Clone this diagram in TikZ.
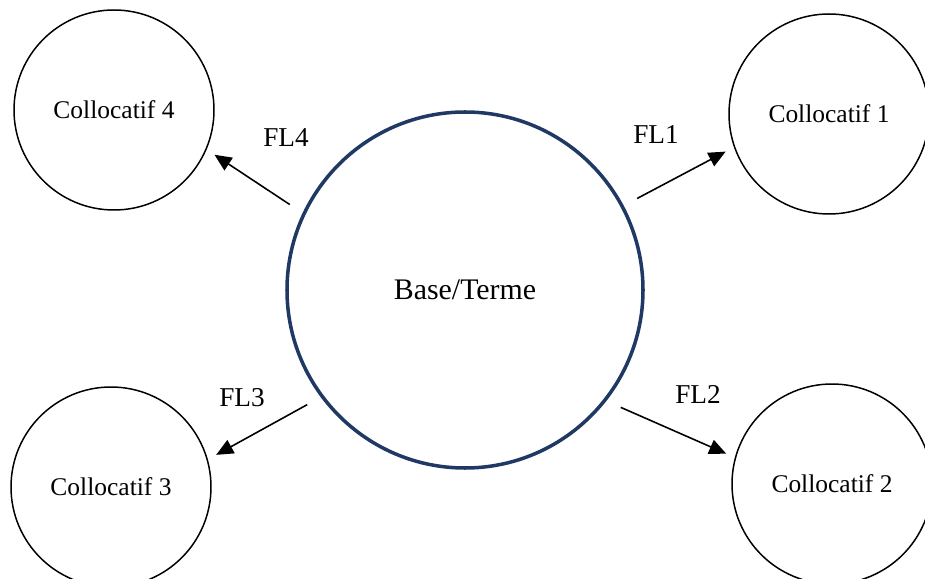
\documentclass[tikz,border=0pt]{standalone}
\usepackage{fontspec}
\setmainfont{Liberation Serif}
\usetikzlibrary{arrows.meta}
\definecolor{cBase}{RGB}{31,56,100}

\begin{document}
\begin{tikzpicture}[>={Triangle[length=0.34cm, width=0.3cm]}, line width=0.85pt]

% ------------------- styles -------------------
\tikzstyle{basecircle} = [draw=cBase, line width=2pt, circle, minimum size=7.12cm, inner sep=0, outer sep=0.34cm, font=\fontsize{17}{20}\selectfont]
\tikzstyle{colcircle} = [draw, circle, minimum size=4cm, inner sep=0, outer sep=0.2cm, font=\fontsize{14.5}{17}\selectfont]
\tikzstyle{fllabel} = [font=\fontsize{15.5}{18}\selectfont]
\tikzstyle{flarrow} = [->, line width=0.9pt]

\useasboundingbox (0,0) rectangle (18.5,-11.58);

% ------------------- base -------------------
\node[basecircle] (Base) at (9.3,-5.8) {Base/Terme};

% ------------------- collocatifs -------------------
\node[colcircle] (Col1) at (16.58,-2.28) {Collocatif 1};
\node[colcircle] (Col2) at (16.64,-9.68) {Collocatif 2};
\node[colcircle] (Col3) at (2.22,-9.74) {Collocatif 3};
\node[colcircle] (Col4) at (2.28,-2.2) {Collocatif 4};

% ------------------- fonctions lexicales -------------------
\draw[flarrow] (Base.28) -- (Col1.200);
\draw[flarrow] (Base.-37) -- (Col2.164);
\draw[flarrow] (Base.216) -- (Col3.17);
\draw[flarrow] (Base.154) -- (Col4.-24);

\node[fllabel] (FL1) at (13.12,-2.7) {FL1};
\node[fllabel] (FL2) at (13.96,-7.88) {FL2};
\node[fllabel] (FL3) at (4.84,-7.96) {FL3};
\node[fllabel] (FL4) at (5.72,-2.76) {FL4};

\end{tikzpicture}
\end{document}
